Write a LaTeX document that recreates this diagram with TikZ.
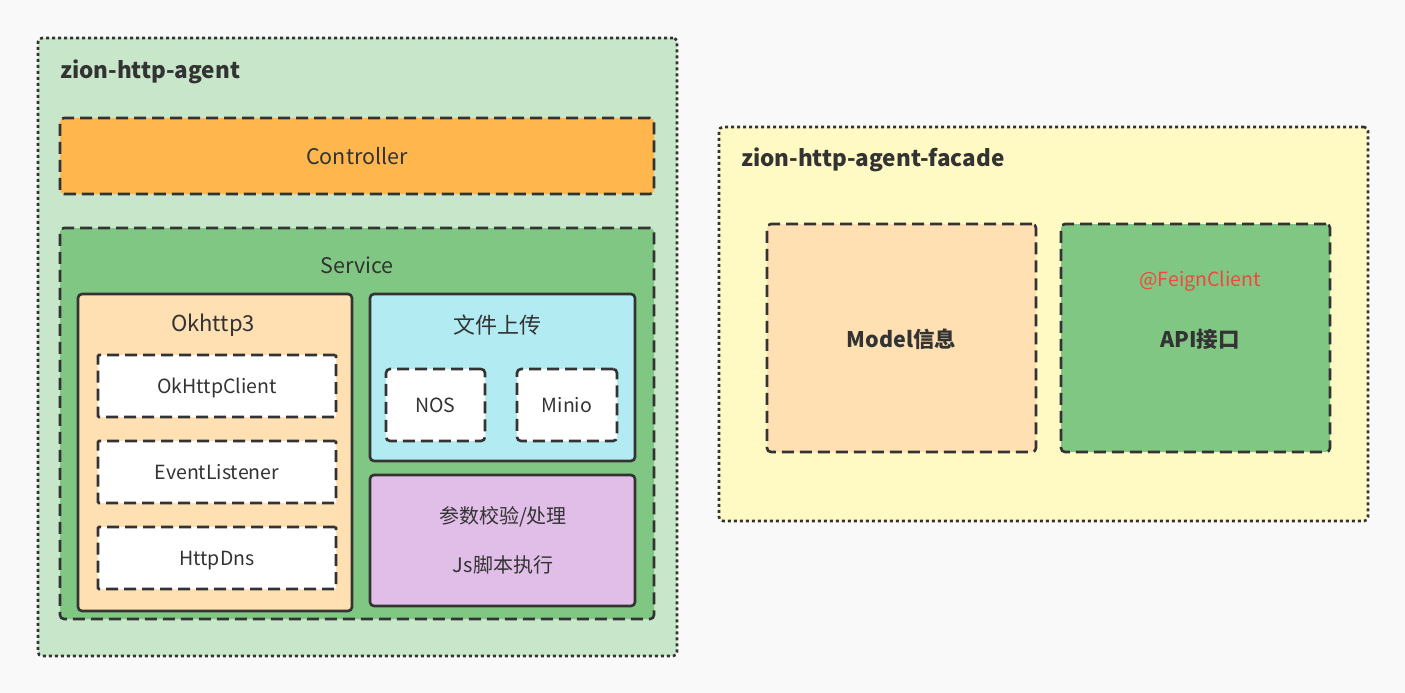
\documentclass[tikz,border=0pt]{standalone}
\usepackage{fontspec}
\setmainfont{Noto Sans CJK SC}
\usepackage{tikz}

\definecolor{bgcol}{HTML}{F9F9F9}
\definecolor{inkcol}{HTML}{333333}
\definecolor{agentcol}{HTML}{C8E6C9}
\definecolor{facadecol}{HTML}{FFF9C4}
\definecolor{ctrlcol}{HTML}{FFB74D}
\definecolor{svccol}{HTML}{81C784}
\definecolor{peachcol}{HTML}{FFE0B2}
\definecolor{uploadcol}{HTML}{B2EBF2}
\definecolor{paramcol}{HTML}{E1BEE7}
\definecolor{feigncol}{HTML}{F0483E}

\begin{document}
\begin{tikzpicture}[x=1pt,y=-1pt,
  box/.style={draw=inkcol,line width=2.6pt,rounded corners=4pt,inner sep=0pt,
    text=inkcol,text depth=0pt,font=\fontsize{19.5}{21}\selectfont},
  dotbox/.style={box,dash pattern=on 3pt off 3pt},
  dashbox/.style={box,dash pattern=on 12pt off 6pt},
  solidbox/.style={box},
  lbl/.style={text=inkcol,inner sep=0pt}]

\useasboundingbox[fill=bgcol] (0,0) rectangle (1405,693);

% zion-http-agent
\node[dotbox,fill=agentcol,minimum width=639pt,minimum height=618pt] (agent) at (357.5,347) {};
\node[lbl,anchor=west,font=\fontsize{22.5}{24}\selectfont\bfseries] (agentlbl) at (60,72) {zion-http-agent};

\node[dashbox,fill=ctrlcol,minimum width=594pt,minimum height=76pt,font=\fontsize{21.5}{23}\selectfont] (controller) at (357,156) {Controller};

\node[dashbox,fill=svccol,minimum width=594pt,minimum height=391pt] (service) at (357,423.5) {};
\node[lbl,font=\fontsize{21.5}{23}\selectfont] (servicelbl) at (357,265) {Service};

% Okhttp3
\node[solidbox,fill=peachcol,minimum width=274pt,minimum height=317pt] (okhttp) at (215,452.5) {};
\node[lbl,font=\fontsize{22}{24}\selectfont] (okhttplbl) at (213,325) {Okhttp3};
\node[dashbox,fill=white,rounded corners=1pt,minimum width=238pt,minimum height=62pt] (client) at (217,386) {OkHttpClient};
\node[dashbox,fill=white,rounded corners=1pt,minimum width=238pt,minimum height=62pt] (listener) at (217,472) {EventListener};
\node[dashbox,fill=white,rounded corners=1pt,minimum width=238pt,minimum height=62pt] (dns) at (217,558) {HttpDns};

% upload
\node[solidbox,fill=uploadcol,minimum width=265pt,minimum height=167pt] (upload) at (502.5,377.5) {};
\node[lbl,font=\fontsize{22}{24}\selectfont] (uploadlbl) at (497,325) {文件上传};
\node[dashbox,fill=white,minimum width=99pt,minimum height=72pt] (nos) at (435.5,405) {NOS};
\node[dashbox,fill=white,minimum width=100pt,minimum height=72pt] (minio) at (567,405) {Minio};

% params
\node[solidbox,fill=paramcol,minimum width=265pt,minimum height=131pt] (params) at (502.5,540.5) {};
\node[lbl,font=\fontsize{20}{22}\selectfont] (checklbl) at (503,517) {参数校验/处理};
\node[lbl,font=\fontsize{20}{22}\selectfont] (jslbl) at (503,565) {Js脚本执行};

% zion-http-agent-facade
\node[dotbox,fill=facadecol,minimum width=649pt,minimum height=394pt] (facade) at (1043.5,324) {};
\node[lbl,anchor=west,font=\fontsize{22.5}{24}\selectfont\bfseries] (facadelbl) at (741,160) {zion-http-agent-facade};

\node[dashbox,fill=peachcol,minimum width=269pt,minimum height=228pt,font=\fontsize{21.5}{23}\selectfont\bfseries] (model) at (901.5,338) {Model信息};
\node[dashbox,fill=svccol,minimum width=269pt,minimum height=228pt] (api) at (1195.5,338) {};
\node[lbl,text=feigncol,font=\fontsize{19.5}{21}\selectfont] (feign) at (1200,281) {@FeignClient};
\node[lbl,font=\fontsize{21.5}{23}\selectfont\bfseries] (apilbl) at (1200,339) {API接口};

\end{tikzpicture}
\end{document}
